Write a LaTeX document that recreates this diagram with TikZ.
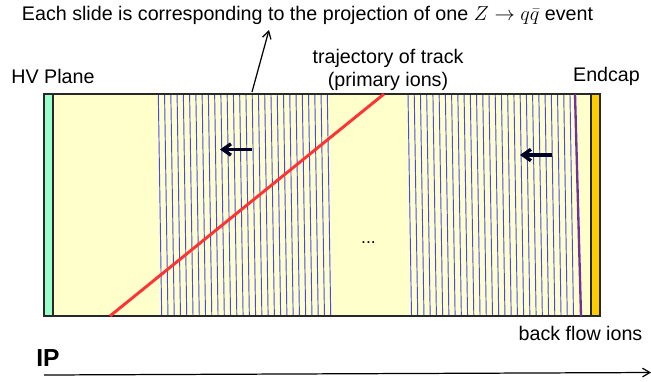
\documentclass[tikz,border=0pt]{standalone}
\usepackage{amsmath}
\usepackage{fontspec}
\setmainfont{Liberation Sans}
\usetikzlibrary{arrows.meta}
\definecolor{cYellow}{RGB}{255,255,204}
\definecolor{cHV}{RGB}{153,255,204}
\definecolor{cEndcap}{RGB}{255,204,0}
\definecolor{cRed}{RGB}{255,51,51}
\definecolor{cSlide}{RGB}{70,70,255}
\definecolor{cPurple}{RGB}{112,48,160}
\definecolor{cFrame}{RGB}{40,40,40}
\tikzset{
	label/.style    ={font=\fontsize{16.8pt}{19.6pt}\selectfont, inner sep=0pt, align=center},
	slide/.style    ={cSlide, line width=0.8pt},
	track/.style    ={cRed, line width=2.5pt},
	flowarrow/.style={-{Straight Barb[length=2.4mm, width=3.4mm]}, line width=2.9pt, black!85!blue},
	thinarrow/.style={-{Straight Barb[length=2.2mm, width=2.6mm]}, line width=1.05pt},
}
\begin{document}
\begin{tikzpicture}[x=0.03cm, y=-0.03cm]
	\useasboundingbox (0,0) rectangle (651,381);
	% chamber body
	\fill[cYellow] (44,94) rectangle (600,316);
	\filldraw[fill=cHV, draw=cFrame, line width=0.9pt] (44,94) rectangle (53,316);
	\filldraw[fill=cEndcap, draw=cFrame, line width=0.9pt] (591,94) rectangle (600,316);
	% slides, first group
	\foreach \i in {0,...,27}
		\draw[slide] ({158.3+6.26*\i},94) -- ({161.7+6.26*\i},316);
	% slides, second group
	\foreach \i in {0,...,26}
		\draw[slide] ({408+6.23*\i},94) -- ({411.5+6.23*\i},316);
	% frame
	\draw[cFrame, line width=1.1pt] (44,94) rectangle (600,316);
	% track and newest ions
	\coordinate (trackstart) at (110,316);
	\coordinate (trackend) at (384,94);
	\draw[track] (trackstart) -- (trackend);
	\coordinate (ionstop) at (575,94);
	\coordinate (ionsbottom) at (581,316);
	\draw[cPurple, line width=2pt] (ionstop) -- (ionsbottom);
	% drift arrows
	\coordinate (driftA) at (252,149.5);
	\coordinate (driftAend) at (220,149.5);
	\coordinate (driftB) at (552,155);
	\coordinate (driftBend) at (520,155);
	\draw[flowarrow] (driftA) -- (driftAend);
	\draw[flowarrow] (driftB) -- (driftBend);
	% labels
	\node[label] (title) at (307.5,15) {Each slide is corresponding to the projection of one $Z\rightarrow q\bar{q}$ event};
	\node[label] (hvplane) at (53,76.5) {HV Plane};
	\node[label] (endcap) at (606.5,76.5) {Endcap};
	\node[label] (trajectory) at (388,69.5) {trajectory of track\\(primary ions)};
	\node[label] (backflow) at (580.5,333.5) {back flow ions};
	\node[label] (dots) at (368.5,243) {\fontsize{15pt}{17pt}\selectfont ...};
	\node[label, font=\fontsize{21pt}{23pt}\selectfont\bfseries] (ip) at (48,358) {IP};
	% pointer to title and axis
	\coordinate (slidetop) at (252,92);
	\coordinate (slidetip) at (269,30);
	\draw[thinarrow] (slidetop) -- (slidetip);
	\coordinate (axisstart) at (44,375);
	\coordinate (axisend) at (651,372.5);
	\draw[thinarrow] (axisstart) -- (axisend);
\end{tikzpicture}
\end{document}
